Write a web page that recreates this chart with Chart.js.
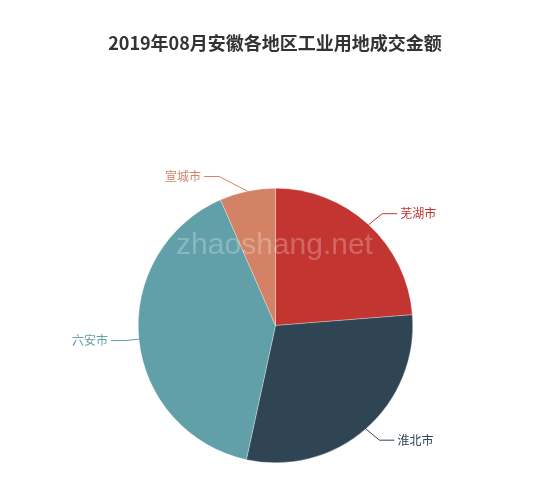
<!DOCTYPE html>
<html>
<head>
<meta charset="utf-8">
<script src="https://cdn.jsdelivr.net/npm/chart.js@4"></script>
<style>
html,body{margin:0;padding:0;background:#fff;}
#wrap{width:550px;height:490px;}
</style>
</head>
<body>
<div id="wrap"><canvas id="c" width="550" height="490"></canvas></div>
<script>
const titleText = '2019年08月安徽各地区工业用地成交金额';
const categories = ['芜湖市', '淮北市', '六安市', '宣城市'];
const values = [23.75, 29.65, 40.04, 6.56];
const colors = ['#c23531', '#2f4554', '#61a0a8', '#d48265'];
const watermark = 'zhaoshang.net';

const labelPlugin = {
  id: 'outerLabels',
  afterDraw(chart) {
    const ctx = chart.ctx;
    ctx.save();
    ctx.font = 'bold 18px "Noto Sans CJK SC", sans-serif';
    ctx.fillStyle = '#333';
    ctx.textAlign = 'center';
    ctx.textBaseline = 'middle';
    ctx.fillText(titleText, chart.width / 2, 43);
    ctx.restore();
  },
  afterDatasetsDraw(chart) {
    const ctx = chart.ctx;
    const meta = chart.getDatasetMeta(0);
    const first = meta.data[0];
    ctx.save();
    ctx.font = '30px "Liberation Sans", Arial, sans-serif';
    ctx.fillStyle = 'rgba(255,255,255,0.25)';
    ctx.textAlign = 'center';
    ctx.textBaseline = 'alphabetic';
    ctx.fillText(watermark, first.x - 1, first.y - 72);
    ctx.restore();

    const len = 15, len2 = 15;
    meta.data.forEach((arc, i) => {
      const mid = (arc.startAngle + arc.endAngle) / 2;
      const r = arc.outerRadius;
      const cx = arc.x, cy = arc.y;
      const x1 = cx + Math.cos(mid) * r, y1 = cy + Math.sin(mid) * r;
      const y2 = cy + Math.sin(mid) * (r + len);
      const dir = Math.cos(mid) >= 0 ? 1 : -1;
      const dy = Math.abs(y2 - cy);
      const R = r + len + len2 - 2;
      const dx = dy < R ? Math.sqrt(R * R - dy * dy) : Math.abs(Math.cos(mid) * (r + len));
      const x3 = cx + dir * dx;
      const x2 = x3 - dir * len2;
      ctx.save();
      ctx.strokeStyle = colors[i];
      ctx.lineWidth = 1;
      ctx.beginPath();
      ctx.moveTo(x1, y1);
      ctx.lineTo(x2, y2);
      ctx.lineTo(x3, y2);
      ctx.stroke();
      ctx.fillStyle = colors[i];
      ctx.font = '12px "Noto Sans CJK SC", sans-serif';
      ctx.textBaseline = 'middle';
      ctx.textAlign = dir > 0 ? 'left' : 'right';
      ctx.fillText(categories[i], x3 + dir * 3, y2);
      ctx.restore();
    });
  }
};

new Chart(document.getElementById('c'), {
  type: 'pie',
  data: {
    labels: categories,
    datasets: [{
      data: values,
      backgroundColor: colors,
      borderColor: 'rgba(255,255,255,0.6)',
      borderWidth: 0.5,
      hoverOffset: 0
    }]
  },
  options: {
    responsive: false,
    animation: false,
    devicePixelRatio: 1,
    layout: { padding: { top: 188, bottom: 27, left: 138, right: 137 } },
    plugins: {
      legend: { display: false },
      tooltip: { enabled: false },
      title: { display: false }
    }
  },
  plugins: [labelPlugin]
});
</script>
</body>
</html>
